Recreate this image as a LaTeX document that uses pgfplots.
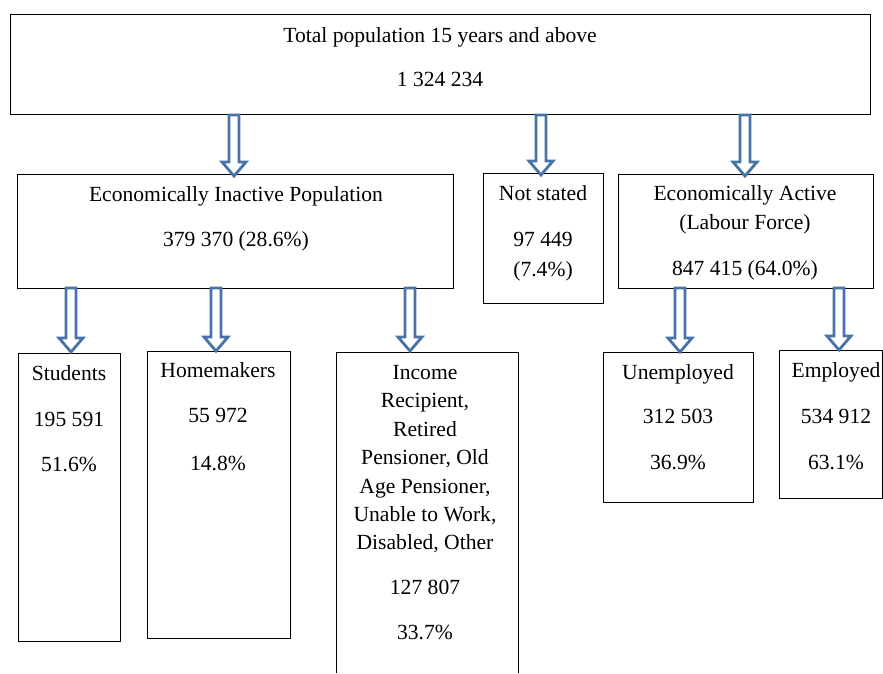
\documentclass[border=0pt]{standalone}
\usepackage{pgfplots}
\pgfplotsset{compat=1.18}
\usepackage{fontspec}
\setmainfont{Liberation Serif}
\definecolor{arrowblue}{RGB}{72,115,166}
\tikzset{lbl/.style={font=\fontsize{21.6}{24}\selectfont, inner sep=0pt, text height=1.4ex, text depth=0pt, yshift=-3pt}}

% hollow block arrow: x, y of tail, y of tip
\newcommand{\blockarrow}[3]{%
  \draw[arrowblue, line width=2.8pt, fill=white, line join=miter]
    ({#1-5},#2) -- ({#1-5},{#3-14}) -- ({#1-12},{#3-14}) -- (#1,#3)
    -- ({#1+12},{#3-14}) -- ({#1+5},{#3-14}) -- ({#1+5},#2) -- cycle;}

\begin{document}
\begin{tikzpicture}
\begin{axis}[
    scale only axis,
    width=883pt, height=673pt,
    xmin=0, xmax=883, ymin=0, ymax=673,
    y dir=reverse,
    hide axis,
    clip=false,
]
\addplot[draw=none] coordinates {(0,0) (883,673)};

% boxes
\draw[line width=1pt] (10,15) rectangle (870,115);
\draw[line width=1pt] (17,175) rectangle (453,288);
\draw[line width=1pt] (483,174) rectangle (603,303);
\draw[line width=1pt] (618,175) rectangle (873,288);
\draw[line width=1pt] (18,353) rectangle (120,641);
\draw[line width=1pt] (147,351) rectangle (290,638);
\draw[line width=1pt] (336,673) -- (336,352) -- (518,352) -- (518,673);
\draw[line width=1pt] (603,352) rectangle (753,502);
\draw[line width=1pt] (779,350) rectangle (882,498);

% arrows
\blockarrow{234}{115}{176}
\blockarrow{541}{115}{175}
\blockarrow{745}{115}{176}
\blockarrow{71}{288}{352}
\blockarrow{216}{288}{351}
\blockarrow{410}{288}{351}
\blockarrow{680}{288}{352}
\blockarrow{839}{288}{350}

% texts
\node[lbl] at (440,36) {Total population 15 years and above};
\node[lbl] at (440,80) {1 324 234};

\node[lbl] at (236,195) {Economically Inactive Population};
\node[lbl] at (236,240) {379 370 (28.6\%)};

\node[lbl] at (543,194) {Not stated};
\node[lbl] at (543,240) {97 449};
\node[lbl] at (543,270) {(7.4\%)};

\node[lbl] at (745,194) {Economically Active};
\node[lbl] at (745,223) {(Labour Force)};
\node[lbl] at (745,269) {847 415 (64.0\%)};

\node[lbl] at (69,374) {Students};
\node[lbl] at (69,420) {195 591};
\node[lbl] at (69,465) {51.6\%};

\node[lbl] at (218,371) {Homemakers};
\node[lbl] at (218,416) {55 972};
\node[lbl] at (218,464) {14.8\%};

\node[lbl] at (425,373) {Income};
\node[lbl] at (425,401) {Recipient,};
\node[lbl] at (425,430) {Retired};
\node[lbl] at (425,458) {Pensioner, Old};
\node[lbl] at (425,487) {Age Pensioner,};
\node[lbl] at (425,515) {Unable to Work,};
\node[lbl] at (425,543) {Disabled, Other};
\node[lbl] at (425,588) {127 807};
\node[lbl] at (425,633) {33.7\%};

\node[lbl] at (678,373) {Unemployed};
\node[lbl] at (678,417) {312 503};
\node[lbl] at (678,463) {36.9\%};

\node[lbl] at (836,371) {Employed};
\node[lbl] at (836,417) {534 912};
\node[lbl] at (836,463) {63.1\%};
\end{axis}
\end{tikzpicture}
\end{document}
